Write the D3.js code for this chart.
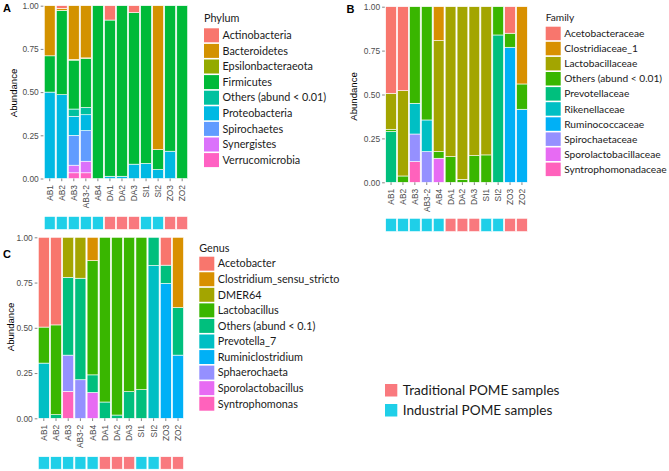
<!DOCTYPE html>
<html><head><meta charset="utf-8">
<script src="https://cdn.jsdelivr.net/npm/d3@7"></script>
<style>
body{margin:0;background:#fff;}
svg{display:block;}
.tick text{font-family:"Liberation Sans",Arial,sans-serif;fill:#4D4D4D;}
.leg{font-family:Lato,"Open Sans",sans-serif;fill:#1a1a1a;}
</style></head>
<body><svg id="chart" width="669" height="471"></svg>
<script>
const samples = ["AB1","AB2","AB3","AB3-2","AB4","DA1","DA2","DA3","SI1","SI2","ZO3","ZO2"];
const sampleGroups = ["I","I","I","I","I","T","T","T","I","I","T","T"];
const groupNames = ["Traditional POME samples","Industrial POME samples"];

const phyla = ["Actinobacteria","Bacteroidetes","Epsilonbacteraeota","Firmicutes","Others (abund < 0.01)","Proteobacteria","Spirochaetes","Synergistes","Verrucomicrobia"];
const phylumValues = [
  [0,0.015,0,0,0,0.083,0,0.04,0,0,0,0],
  [0.29,0.012,0.311,0.302,0,0,0,0,0,0.833,0,0],
  [0,0,0.004,0.004,0,0,0,0,0,0,0,0],
  [0.21,0.488,0.283,0.283,1,0.904,0.987,0.877,0.913,0.115,0.842,1],
  [0,0,0.042,0.042,0,0,0,0,0,0,0,0],
  [0.50,0.485,0.11,0.092,0,0.013,0.013,0.083,0.087,0.052,0.158,0],
  [0,0,0.173,0.177,0,0,0,0,0,0,0,0],
  [0,0,0.044,0.067,0,0,0,0,0,0,0,0],
  [0,0,0.033,0.033,0,0,0,0,0,0,0,0]
];
const families = ["Acetobacteraceae","Clostridiaceae_1","Lactobacillaceae","Others (abund < 0.01)","Prevotellaceae","Rikenellaceae","Ruminococcaceae","Spirochaetaceae","Sporolactobacillaceae","Syntrophomonadaceae"];
const familyValues = [
  [0.493,0.478,0,0,0,0,0,0,0,0,0.151,0],
  [0,0,0,0,0.193,0,0,0,0,0,0,0.44],
  [0.205,0.486,0,0,0.632,0.854,0.983,0.848,0.844,0,0,0],
  [0.013,0.036,0.55,0.645,0.038,0.146,0.017,0.152,0.156,0.161,0.08,0.144],
  [0.289,0,0,0,0,0,0,0,0,0.839,0,0],
  [0,0,0.175,0.18,0,0,0,0,0,0,0,0],
  [0,0,0,0,0,0,0,0,0,0,0.769,0.416],
  [0,0,0.157,0.175,0,0,0,0,0,0,0,0],
  [0,0,0,0,0.137,0,0,0,0,0,0,0],
  [0,0,0.118,0,0,0,0,0,0,0,0,0]
];
const genera = ["Acetobacter","Clostridium_sensu_stricto","DMER64","Lactobacillus","Others (abund < 0.1)","Prevotella_7","Ruminiclostridium","Sphaerochaeta","Sporolactobacillus","Syntrophomonas"];
const genusValues = [
  [0.496,0.484,0,0,0,0,0,0,0,0,0.154,0],
  [0,0,0,0,0.129,0,0,0,0,0,0,0.388],
  [0,0,0.221,0.226,0,0,0,0,0,0,0,0],
  [0.199,0.496,0,0,0.631,0.91,0.982,0.853,0.842,0,0,0],
  [0,0.02,0.43,0.561,0.097,0.09,0.018,0.147,0.158,0.156,0.101,0.263],
  [0.305,0,0,0,0,0,0,0,0,0.844,0,0],
  [0,0,0,0,0,0,0,0,0,0,0.745,0.349],
  [0,0,0.2,0.213,0,0,0,0,0,0,0,0],
  [0,0,0,0,0.143,0,0,0,0,0,0,0],
  [0,0,0.149,0,0,0,0,0,0,0,0,0]
];
const yTicks = [0,0.25,0.5,0.75,1];
const yTickLabels = ["0.00","0.25","0.50","0.75","1.00"];

const pal9 = ["#F8766D","#D39200","#93AA00","#00BA38","#00C19F","#00B9E3","#619CFF","#DB72FB","#FF61C3"];
const pal10 = ["#F8766D","#D89000","#A3A500","#39B600","#00BF7D","#00BFC4","#00B0F6","#9590FF","#E76BF3","#FF62BC"];
const groupColors = {T:"#F9797E", I:"#1FCFE8"};

const svg = d3.select("#chart");

const panels = [
  {id:"A", cats:phyla, vals:phylumValues, pal:pal9, title:"Phylum",
   x0:43.7, x1:188.2, yTop:5.7, yBot:178.5, stripY:216.5, stripH:13,
   lab:[3,12.3], yt:[13.5,93], leg:[204,28.3,15.6], legTitleY:21.5, fs:10.8},
  {id:"B", cats:families, vals:familyValues, pal:pal10, title:"Family",
   x0:385.1, x1:527.9, yTop:6.7, yBot:182.3, stripY:218.3, stripH:13.3,
   lab:[346.5,12.8], yt:[353.5,96.5], leg:[545.7,26.7,15.1], legTitleY:20.5, fs:10.2},
  {id:"C", cats:genera, vals:genusValues, pal:pal10, title:"Genus",
   x0:37.7, x1:184.1, yTop:237.3, yBot:418.3, stripY:456.7, stripH:12.5,
   lab:[3,257.5], yt:[10.8,327], leg:[199.3,256.7,15.56], legTitleY:251.5, fs:10.8}
];

panels.forEach(p => {
  const g = svg.append("g");
  const x = d3.scaleBand().domain(samples).range([p.x0,p.x1]).paddingInner(0.1).paddingOuter(0.05);
  const y = d3.scaleLinear().domain([0,1]).range([p.yBot,p.yTop]);
  const color = d3.scaleOrdinal().domain(p.cats).range(p.pal);
  const rows = samples.map((s,i) => {
    const o = {sample:s};
    p.cats.forEach((c,k) => o[c] = p.vals[k][i]);
    return o;
  });
  const stack = d3.stack().keys(p.cats.slice().reverse());
  const series = stack(rows);
  g.selectAll("g.series").data(series).join("g").attr("fill", d => color(d.key))
    .selectAll("rect").data(d => d.filter(v => v[1]-v[0] > 0)).join("rect")
    .attr("x", d => x(d.data.sample))
    .attr("width", x.bandwidth())
    .attr("y", d => y(d[1]))
    .attr("height", d => y(d[0]) - y(d[1]))
    .attr("stroke","#fff").attr("stroke-width",0.6);

  // y axis
  const ya = g.append("g").attr("transform",`translate(${p.x0-0.3},0)`)
    .call(d3.axisLeft(y).tickValues(yTicks).tickFormat((d,i)=>yTickLabels[i]).tickSize(2.7).tickPadding(2));
  ya.select(".domain").remove();
  ya.selectAll(".tick line").attr("stroke","#333").attr("stroke-width",0.6);
  ya.selectAll(".tick text").attr("font-size",8.4);

  // x axis
  const xa = g.append("g").attr("transform",`translate(0,${p.yBot})`)
    .call(d3.axisBottom(x).tickSize(2.7).tickPadding(2));
  xa.select(".domain").remove();
  xa.selectAll(".tick line").attr("stroke","#333").attr("stroke-width",0.6);
  xa.selectAll(".tick text").attr("font-size",8.4)
    .attr("transform","rotate(-90)").attr("text-anchor","end")
    .attr("x",-6.5).attr("y",0).attr("dy","0.35em");

  // group strip
  g.selectAll("rect.strip").data(samples).join("rect").attr("class","strip")
    .attr("x", d => x(d)).attr("width", x.bandwidth())
    .attr("y", p.stripY).attr("height", p.stripH)
    .attr("fill", (d,i) => groupColors[sampleGroups[i]])
    .attr("stroke","#fff").attr("stroke-width",0.6);

  // panel label
  g.append("text").attr("x",p.lab[0]).attr("y",p.lab[1]).text(p.id)
    .attr("font-family","'Liberation Sans',Arial,sans-serif").attr("font-weight","bold").attr("font-size",11).attr("fill","#000");
  // y title
  g.append("text").attr("transform",`translate(${p.yt[0]},${p.yt[1]}) rotate(-90)`)
    .attr("text-anchor","middle").attr("dy","0.35em").text("Abundance")
    .attr("font-family","'Liberation Sans',Arial,sans-serif").attr("font-size",9.6).attr("fill","#000");

  // legend
  const lg = g.append("g");
  lg.append("text").attr("class","leg").attr("x",p.leg[0]).attr("y",p.legTitleY).text(p.title).attr("font-size",p.fs);
  const items = lg.selectAll("g.item").data(p.cats).join("g")
    .attr("transform",(d,i)=>`translate(${p.leg[0]},${p.leg[1]+i*p.leg[2]})`);
  items.append("rect").attr("width",15).attr("height",p.leg[2]-1.6).attr("fill",d=>color(d));
  items.append("text").attr("class","leg").attr("x",18.5).attr("y",(p.leg[2]-1.6)/2).attr("dy","0.35em")
    .attr("font-size",p.fs).text(d=>d);
});

// group legend
const gl = svg.append("g");
const gkeys = ["T","I"];
gl.selectAll("rect").data(gkeys).join("rect")
  .attr("x",385).attr("y",(d,i)=>384+i*20).attr("width",12.3).attr("height",12.5)
  .attr("fill",d=>groupColors[d]);
gl.selectAll("text").data(groupNames).join("text").attr("class","leg")
  .attr("x",402.7).attr("y",(d,i)=>390.3+i*20).attr("dy","0.35em").attr("font-size",13.6).text(d=>d);
</script></body></html>
